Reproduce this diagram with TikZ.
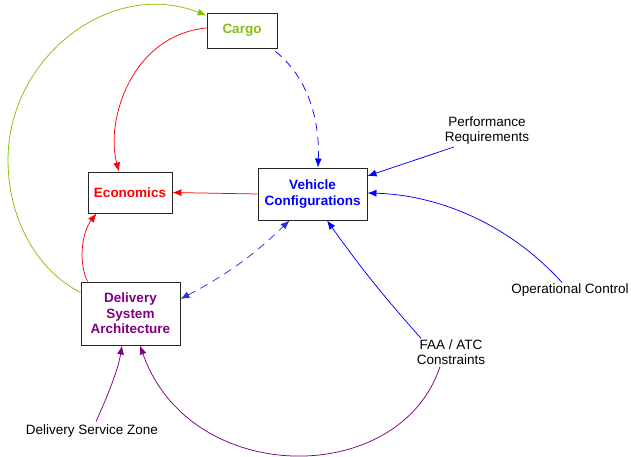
\documentclass[tikz,border=0pt]{standalone}
\usepackage{fontspec}
\setmainfont{Liberation Sans}
\usetikzlibrary{arrows.meta,calc,shadows}
\definecolor{cgreen}{RGB}{130,195,10}
\definecolor{cpurple}{RGB}{128,0,128}
\definecolor{cdash}{RGB}{45,45,225}
\begin{document}
\begin{tikzpicture}[x=1pt,y=-1pt,
  box/.style={draw=black!85, line width=0.9pt, fill=white, inner sep=0pt, align=center,
    font=\fontsize{13.5}{15.5}\selectfont\bfseries,
    drop shadow={shadow xshift=1pt, shadow yshift=-1pt, fill=black!45, opacity=1}},
  lbl/.style={align=center, font=\fontsize{13.5}{15}\selectfont, inner sep=0pt},
  tip/.style={line width=0.75pt, -{Latex[length=9pt,width=7pt]}},
  dtip/.style={line width=0.75pt, {Latex[length=9pt,width=7pt]}-{Latex[length=9pt,width=7pt]}},
  dsh/.style={dash pattern=on 8pt off 6pt}
  ]
\useasboundingbox (0,0) rectangle (631,457);

\node[box, text=cgreen, minimum width=70pt, minimum height=35pt] (cargo) at (242,30.5) {Cargo};
\node[box, text=red, minimum width=84pt, minimum height=41pt] (econ) at (130,192.5) {Economics};
\node[box, text=blue, minimum width=109pt, minimum height=52pt] (vc) at (312.5,194) {Vehicle\\Configurations};
\node[box, text=cpurple, minimum width=99pt, minimum height=63pt] (dsa) at (130.5,313.5) {Delivery\\System\\Architecture};

\node[lbl] (perf) at (487,131) {Performance\\Requirements};
\node[lbl] (opc) at (570,290) {Operational Control};
\node[lbl] (faa) at (451,352) {FAA / ATC\\Constraints};
\node[lbl] (dsz) at (92,431) {Delivery Service Zone};

\coordinate (gl) at (8,160);
\draw[cgreen, tip] ($(dsa.north west)+(0,11)$) .. controls (33,268) and (8,214) .. (gl)
  .. controls (8,57) and (111,-22) .. ($(cargo.west)+(0,-15)$);
\draw[red, tip] ($(cargo.west)+(0,-2.5)$) .. controls (132,35) and (105,120) .. ($(econ.north)+(-11,0)$);
\draw[blue, dsh, tip] ($(cargo.south east)+(-2,3)$) .. controls (305,75) and (320,115) .. ($(vc.north)+(5.5,0)$);
\draw[red, tip] (vc.west) -- (econ.east);
\draw[red, tip] ($(dsa.north west)+(7,0)$) .. controls (78,262) and (82,232) .. ($(econ.south west)+(9,0)$);
\draw[cdash, dsh, dtip] ($(dsa.east)+(0,-14.5)$) to[bend right=8] ($(vc.south west)+(32,0)$);
\draw[blue, tip] ($(perf.south)+(-33,2)$) -- ($(vc.east)+(0,-18)$);
\draw[blue, tip] ($(opc.north)+(-8,-1)$) .. controls (510,225) and (440,195) .. ($(vc.east)+(0,-1)$);
\draw[blue, tip] ($(faa.north)+(-30,-1)$) to[bend left=3] ($(vc.south)+(14.5,0)$);
\draw[cpurple, tip] ($(dsz.north)+(4,-3)$) .. controls (108,395) and (118,370) .. ($(dsa.south)+(-8.5,0)$);
\draw[cpurple, tip] ($(faa.south)+(-11,2)$) .. controls (400,488) and (190,488) .. ($(dsa.south)+(9.5,0)$);
\end{tikzpicture}
\end{document}
